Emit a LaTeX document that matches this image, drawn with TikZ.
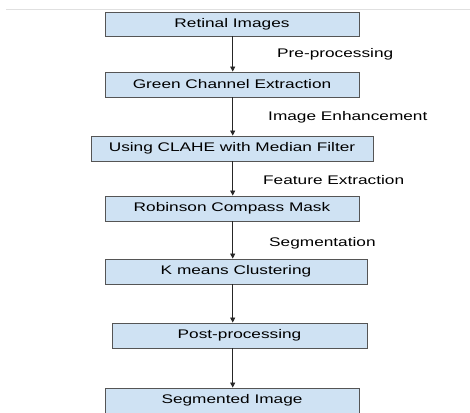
\documentclass[tikz,border=0pt]{standalone}
\usepackage{fontspec}
\setmainfont{Liberation Sans}[FakeStretch=1.38]
\usetikzlibrary{arrows.meta}
\definecolor{boxfill}{HTML}{CFE2F3}
\definecolor{boxline}{HTML}{555555}
\begin{document}
\begin{tikzpicture}[x=1pt,y=-1pt,
  stepbox/.style={draw=boxline,line width=0.9pt,fill=boxfill,inner sep=0pt,font=\fontsize{12.5}{14}\selectfont},
  flow/.style={-{Triangle[length=5pt,width=5pt]},line width=0.8pt,black!85},
  lbl/.style={font=\fontsize{12.5}{14}\selectfont,anchor=west,inner sep=0pt}]
\useasboundingbox (0,0) rectangle (470,412);
\fill[white] (0,0) rectangle (470,412);
\draw[black!12,line width=1pt] (6,10) -- (470,10);
\node[stepbox,minimum width=254pt,minimum height=24pt] (a) at (232,24) {Retinal Images};
\node[stepbox,minimum width=254pt,minimum height=25pt] (b) at (232,84.5) {Green Channel Extraction};
\node[stepbox,minimum width=282pt,minimum height=25pt] (c) at (232,148.5) {Using CLAHE with Median Filter};
\node[stepbox,minimum width=254pt,minimum height=25pt] (d) at (232,208.5) {Robinson Compass Mask};
\node[stepbox,minimum width=262pt,minimum height=25pt] (e) at (236,271.5) {K means Clustering};
\node[stepbox,minimum width=255pt,minimum height=25pt] (f) at (239.5,335.5) {Post-processing};
\node[stepbox,minimum width=254pt,minimum height=25pt] (g) at (232,400.5) {Segmented Image};
\coordinate (ea) at (232.7,284);
\coordinate (fa) at (232.7,348);
\draw[flow] (a.south -| 232.7,0) -- (b.north -| 232.7,0);
\draw[flow] (b.south -| 232.7,0) -- (c.north -| 232.7,0);
\draw[flow] (c.south -| 232.7,0) -- (d.north -| 232.7,0);
\draw[flow] (d.south -| 232.7,0) -- (e.north -| 232.7,0);
\draw[flow] (ea) -- (f.north -| ea);
\draw[flow] (fa) -- (g.north -| fa);
\node[lbl] (l1) at (277,54) {Pre-processing};
\node[lbl] (l2) at (268,117) {Image Enhancement};
\node[lbl] (l3) at (263,180) {Feature Extraction};
\node[lbl] (l4) at (269,243.5) {Segmentation};
\end{tikzpicture}
\end{document}
